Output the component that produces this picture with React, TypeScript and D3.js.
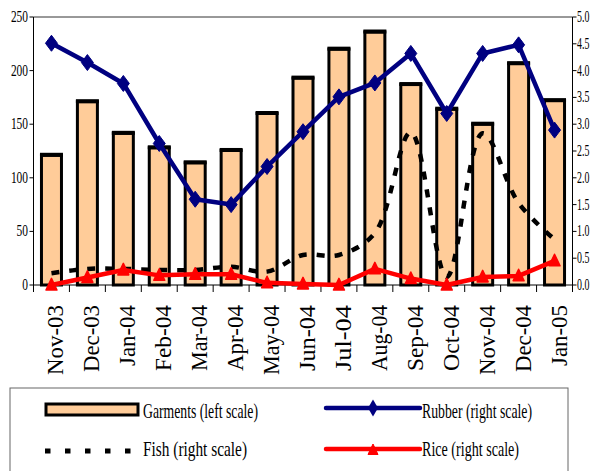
import React from "react";
import * as d3 from "d3";

const categories = ["Nov-03","Dec-03","Jan-04","Feb-04","Mar-04","Apr-04","May-04","Jun-04","Jul-04","Aug-04","Sep-04","Oct-04","Nov-04","Dec-04","Jan-05"];
const garments = [121,171,141.5,128,114,125.5,160,193,220,236,187,164,150,206.5,172];
const rubber = [4.51,4.15,3.76,2.64,1.6,1.5,2.21,2.86,3.51,3.77,4.32,3.2,4.32,4.48,2.89];
const fish = [0.22,0.3,0.3,0.28,0.28,0.34,0.25,0.56,0.56,0.97,2.85,0.15,2.83,1.53,0.85];
const rice = [0,0.14,0.28,0.18,0.2,0.2,0.04,0.02,0,0.3,0.12,0,0.15,0.17,0.45];
const leftTicks = [0,50,100,150,200,250];
const rightTicks = [0,0.5,1,1.5,2,2.5,3,3.5,4,4.5,5];
const legendLabels = ["Garments (left scale)","Rubber (right scale)","Fish (right scale)","Rice (right scale)"];

const W = 594, H = 471;
const L = 33.5, R = 572.5, T = 17, B = 285;
const serif = "'Liberation Serif', 'Times New Roman', serif";

export default function App() {
  const x = d3.scaleBand<string>().domain(categories).range([L, R]).padding(0);
  const yL = d3.scaleLinear().domain([0, 250]).range([B, T]);
  const yR = d3.scaleLinear().domain([0, 5]).range([B, T]);
  const cx = (i: number) => (x(categories[i]) as number) + x.bandwidth() / 2;

  const straight = d3.line<number>().x((_, i) => cx(i)).y(d => yR(d));
  const smooth = d3.line<number>().x((_, i) => cx(i)).y(d => yR(d)).curve(d3.curveCatmullRom.alpha(0.5));

  const barW = 20;
  const boundaries = d3.range(categories.length + 1).map(i => L + i * x.bandwidth());

  const diamond = (px: number, py: number, w: number, h: number) =>
    `M${px},${py - h / 2}L${px + w / 2},${py}L${px},${py + h / 2}L${px - w / 2},${py}Z`;
  const tri = (px: number, py: number, s: number) =>
    `M${px},${py - s * 0.6}L${px + s / 2},${py + s * 0.45}L${px - s / 2},${py + s * 0.45}Z`;

  return (
    <svg width={W} height={H} style={{ position: "absolute", left: 0, top: 0, background: "#fff" }} fontFamily={serif}>
      {/* plot frame */}
      <line x1={L} x2={R} y1={T} y2={T} stroke="#333" strokeWidth={1} />
      <line x1={L} x2={L} y1={T} y2={B} stroke="#000" strokeWidth={1} />
      <line x1={R} x2={R} y1={T} y2={B} stroke="#000" strokeWidth={1} />
      <line x1={L} x2={R} y1={B} y2={B} stroke="#000" strokeWidth={1} />

      {/* left axis */}
      {leftTicks.map(t => (
        <g key={"l" + t}>
          <line x1={L - 4} x2={L} y1={yL(t)} y2={yL(t)} stroke="#000" />
          <text x={28} y={yL(t) + 5} textAnchor="end" fontSize={16}
            textLength={String(t).length * 5.7} lengthAdjust="spacingAndGlyphs">{t}</text>
        </g>
      ))}
      {/* right axis */}
      {rightTicks.map(t => (
        <g key={"r" + t}>
          <line x1={R} x2={R + 4} y1={yR(t)} y2={yR(t)} stroke="#000" />
          <text transform={`translate(577,${yR(t) + 5}) scale(0.62,1)`} fontSize={16}>{t.toFixed(1)}</text>
        </g>
      ))}
      {/* x ticks */}
      {boundaries.map((b, i) => (
        <line key={"xt" + i} x1={b} x2={b} y1={B} y2={B + 7} stroke="#000" />
      ))}
      {categories.map((c, i) => (
        <text key={c} transform={`translate(${cx(i) + 12},305) rotate(-90)`} textAnchor="end" fontSize={24}
          textLength={c.startsWith("Jan") ? 61 : c.startsWith("Dec") ? 67 : c.startsWith("Nov") || c.startsWith("May") ? 70 : 66}
          lengthAdjust="spacingAndGlyphs">{c}</text>
      ))}

      {/* bars */}
      {garments.map((g, i) => (
        <g key={"b" + i}>
          <rect x={cx(i) - barW / 2} y={yL(g)} width={barW} height={B - yL(g)}
            fill="#FFCC99" stroke="#000" strokeWidth={3} />
          <line x1={cx(i) - barW / 2 - 1.5} x2={cx(i) + barW / 2 + 1.5} y1={yL(g) - 0.5} y2={yL(g) - 0.5} stroke="#000" strokeWidth={4} />
        </g>
      ))}

      {/* fish */}
      <path d={smooth(fish) || ""} fill="none" stroke="#000" strokeWidth={4.5} strokeDasharray="8,10" />
      {/* rice */}
      <path d={straight(rice) || ""} fill="none" stroke="#FF0000" strokeWidth={4.5} strokeLinejoin="round" />
      {rice.map((v, i) => (
        <path key={"ri" + i} d={tri(cx(i), yR(v), 11)} fill="#FF0000" stroke="#FF0000" strokeWidth={1.5} strokeLinejoin="round" />
      ))}
      {/* rubber */}
      <path d={straight(rubber) || ""} fill="none" stroke="#000080" strokeWidth={4.5} strokeLinejoin="round" />
      {rubber.map((v, i) => (
        <path key={"ru" + i} d={diamond(cx(i), yR(v), 12, 16)} fill="#000080" stroke="#000080" strokeWidth={1} />
      ))}

      {/* legend */}
      <rect x={10} y={388} width={558} height={100} fill="none" stroke="#666" strokeWidth={1} />
      <rect x={46} y={404} width={92} height={11} fill="#FFCC99" stroke="#000" strokeWidth={3} />
      <text x={143} y={418} fontSize={21} textLength={115} lengthAdjust="spacingAndGlyphs">{legendLabels[0]}</text>
      <line x1={326} x2={420} y1={408} y2={408} stroke="#000080" strokeWidth={4.5} strokeLinecap="round" />
      <path d={diamond(373, 408, 10, 17)} fill="#000080" />
      <text x={422} y={418} fontSize={21} textLength={110} lengthAdjust="spacingAndGlyphs">{legendLabels[1]}</text>
      <line x1={45} x2={131} y1={451} y2={451} stroke="#000" strokeWidth={5} strokeDasharray="5.5,14.5" />
      <text x={143} y={456} fontSize={21} textLength={104} lengthAdjust="spacingAndGlyphs">{legendLabels[2]}</text>
      <line x1={326} x2={420} y1={449} y2={449} stroke="#FF0000" strokeWidth={4.5} strokeLinecap="round" />
      <path d={tri(373, 450, 10)} fill="#FF0000" stroke="#FF0000" strokeWidth={1} strokeLinejoin="round" />
      <text x={422} y={456} fontSize={21} textLength={97} lengthAdjust="spacingAndGlyphs">{legendLabels[3]}</text>
    </svg>
  );
}
